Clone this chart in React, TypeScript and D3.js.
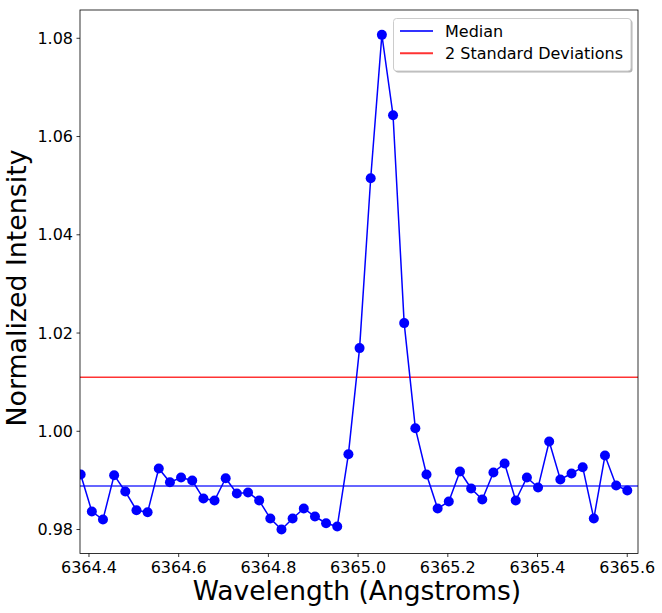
import React from "react";
import * as d3 from "d3";

const wavelengths = [
  6364.3815, 6364.4064, 6364.4312, 6364.4561, 6364.481, 6364.5059, 6364.5307, 6364.5556, 6364.5805, 6364.6053,
  6364.6302, 6364.6551, 6364.6799, 6364.7048, 6364.7297, 6364.7546, 6364.7794, 6364.8043, 6364.8292, 6364.854,
  6364.8789, 6364.9038, 6364.9286, 6364.9535, 6364.9784, 6365.0033, 6365.0281, 6365.053, 6365.0779, 6365.1027,
  6365.1276, 6365.1525, 6365.1773, 6365.2022, 6365.2271, 6365.252, 6365.2768, 6365.3017, 6365.3266, 6365.3514,
  6365.3763, 6365.4012, 6365.426, 6365.4509, 6365.4758, 6365.5007, 6365.5255, 6365.5504, 6365.5753, 6365.6001,
];

const intensities = [
  0.9912, 0.98367, 0.98204, 0.99106, 0.98774, 0.98393, 0.98352, 0.99243, 0.98963, 0.99059,
  0.98998, 0.98631, 0.98591, 0.99045, 0.98733, 0.98754, 0.98591, 0.98224, 0.98, 0.98224,
  0.98428, 0.98265, 0.98128, 0.98061, 0.99534, 1.01693, 1.0515, 1.0807, 1.06433, 1.02202,
  1.00063, 0.9912, 0.98428, 0.9857, 0.99181, 0.98835, 0.98611, 0.99161, 0.99344, 0.98591,
  0.99059, 0.98856, 0.99793, 0.99018, 0.99141, 0.99269, 0.98224, 0.99507, 0.98896, 0.98794,
];

const medianValue = 0.98888;
const twoSigmaValue = 1.01102;

const xTicks = [6364.4, 6364.6, 6364.8, 6365.0, 6365.2, 6365.4, 6365.6];
const yTicks = [0.98, 1.0, 1.02, 1.04, 1.06, 1.08];

const legendLabels = ["Median", "2 Standard Deviations"];

const W = 662;
const H = 613;
const left = 80;
const right = 638;
const top = 10;
const bottom = 553.5;
const FONT = "DejaVu Sans, sans-serif";

export default function App() {
  const x = d3.scaleLinear().domain([6364.38, 6365.624]).range([left, right]);
  const y = d3.scaleLinear().domain([0.97512, 1.08576]).range([bottom, top]);
  const pts = wavelengths.map((w, i) => [w, intensities[i]] as [number, number]);
  const line = d3
    .line<[number, number]>()
    .x((d) => x(d[0]))
    .y((d) => y(d[1]));

  const legendColors = ["rgba(0,0,255,0.8)", "rgba(255,0,0,0.8)"];

  return (
    <svg
      width={W}
      height={H}
      style={{ position: "absolute", left: 0, top: 0, background: "#fff" }}
      fontFamily={FONT}
    >
      <defs>
        <clipPath id="plotclip">
          <rect x={left} y={top} width={right - left} height={bottom - top} />
        </clipPath>
      </defs>
      <rect x={0} y={0} width={W} height={H} fill="#fff" />
      <g clipPath="url(#plotclip)">
        <line x1={left} x2={right} y1={y(medianValue)} y2={y(medianValue)} stroke="rgba(0,0,255,0.8)" strokeWidth={1.5} />
        <line x1={left} x2={right} y1={y(twoSigmaValue)} y2={y(twoSigmaValue)} stroke="rgba(255,0,0,0.8)" strokeWidth={1.5} />
        <path d={line(pts) || ""} fill="none" stroke="#0000ff" strokeWidth={1.5} />
        {pts.map((p, i) => (
          <circle key={i} cx={x(p[0])} cy={y(p[1])} r={5} fill="#0000ff" />
        ))}
      </g>
      <rect x={left} y={top} width={right - left} height={bottom - top} fill="none" stroke="#000" strokeWidth={0.8} />
      {xTicks.map((t) => (
        <g key={t}>
          <line x1={x(t)} x2={x(t)} y1={bottom} y2={bottom + 3.5} stroke="#000" strokeWidth={0.8} />
          <text x={x(t)} y={572.7} textAnchor="middle" fontSize={16} fill="#000">
            {t.toFixed(1)}
          </text>
        </g>
      ))}
      {yTicks.map((t) => (
        <g key={t}>
          <line x1={left - 3.5} x2={left} y1={y(t)} y2={y(t)} stroke="#000" strokeWidth={0.8} />
          <text x={left - 7} y={y(t)} dy="0.35em" textAnchor="end" fontSize={16} fill="#000">
            {t.toFixed(2)}
          </text>
        </g>
      ))}
      <text x={357} y={600} textAnchor="middle" fontSize={26.5} fill="#000">
        Wavelength (Angstroms)
      </text>
      <text
        transform={`translate(26,288) rotate(-90)`}
        textAnchor="middle"
        fontSize={26.8}
        fill="#000"
      >
        Normalized Intensity
      </text>
      <g>
        <rect x={395} y={20} width={237.5} height={52.5} rx={3} fill="rgba(0,0,0,0.3)" />
        <rect x={393.5} y={18.5} width={237.5} height={52.5} rx={3} fill="#fff" stroke="#ccc" strokeWidth={1} />
        {legendLabels.map((lab, i) => (
          <g key={lab}>
            <line x1={400} x2={433} y1={31 + i * 22.3} y2={31 + i * 22.3} stroke={legendColors[i]} strokeWidth={2} />
            <text x={445} y={31 + i * 22.3} dy="0.35em" fontSize={16} fill="#000">
              {lab}
            </text>
          </g>
        ))}
      </g>
    </svg>
  );
}
